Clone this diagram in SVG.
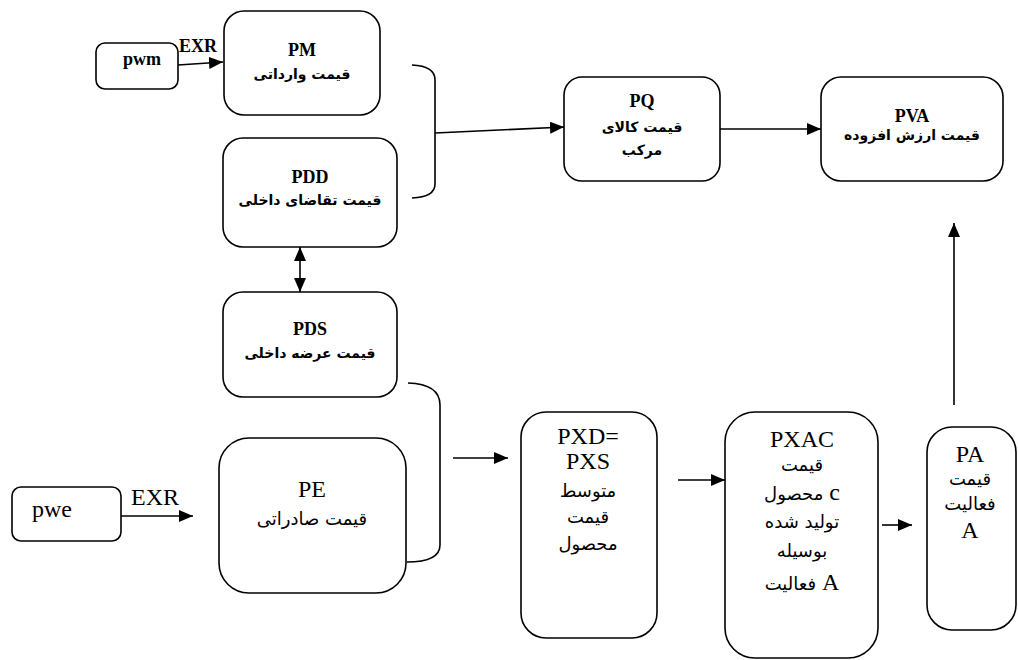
<svg xmlns="http://www.w3.org/2000/svg" width="1018" height="660" viewBox="0 0 1018 660">
<style>
.box{fill:#fff;stroke:#000;stroke-width:1.6}
.ln{fill:none;stroke:#000;stroke-width:1.6}
.b{font-family:"Liberation Serif","DejaVu Sans",serif;font-weight:bold;font-size:18px;text-anchor:middle;fill:#000}
.bp{font-family:"DejaVu Sans",sans-serif;font-weight:bold;font-size:14px;text-anchor:middle;fill:#000}
.r{font-family:"Liberation Serif","DejaVu Sans",serif;font-size:24px;text-anchor:middle;fill:#000}
.rp{font-family:"DejaVu Sans",sans-serif;font-size:18px;text-anchor:middle;fill:#000}
</style>
<defs>
<marker id="ah" markerUnits="userSpaceOnUse" markerWidth="15" markerHeight="12" refX="14" refY="6" orient="auto">
<path d="M0,0 L14,6 L0,12 z" fill="#000"/>
</marker>
<marker id="as" markerUnits="userSpaceOnUse" markerWidth="15" markerHeight="12" refX="0" refY="6" orient="auto">
<path d="M14,0 L0,6 L14,12 z" fill="#000"/>
</marker>
</defs>
<rect width="1018" height="660" fill="#fff"/>
<g id="connectors">
<line class="ln" x1="178" y1="65" x2="223" y2="62" marker-end="url(#ah)"/>
<text class="b" x="198" y="52">EXR</text>
<path class="ln" d="M412,65 Q435,66 435,80 L435,184 Q435,197 412,198"/>
<line class="ln" x1="435" y1="133" x2="564" y2="127" marker-end="url(#ah)"/>
<line class="ln" x1="720" y1="129" x2="821" y2="129" marker-end="url(#ah)"/>
<line class="ln" x1="300" y1="247" x2="300" y2="292" marker-start="url(#as)" marker-end="url(#ah)"/>
<path class="ln" d="M408,383 Q440,384 440,405 L440,545 Q440,562 407,562"/>
<line class="ln" x1="453" y1="458" x2="508" y2="458" marker-end="url(#ah)"/>
<line class="ln" x1="121" y1="516" x2="193" y2="516" marker-end="url(#ah)"/>
<text class="r" x="155" y="505">EXR</text>
<line class="ln" x1="678" y1="480" x2="725" y2="480" marker-end="url(#ah)"/>
<line class="ln" x1="882" y1="525" x2="912" y2="525" marker-end="url(#ah)"/>
<line class="ln" x1="954" y1="405" x2="954" y2="223" marker-end="url(#ah)"/>
</g>
<g id="pwm">
<rect class="box" x="96" y="43" width="82" height="46" rx="9"/>
<text class="b" x="142" y="65">pwm</text>
</g>
<g id="PM">
<rect class="box" x="224" y="11" width="156" height="104" rx="20"/>
<text class="b" x="302" y="56">PM</text>
<text class="bp" x="302" y="79">قیمت وارداتی</text>
</g>
<g id="PDD">
<rect class="box" x="223" y="138" width="174" height="109" rx="20"/>
<text class="b" x="310" y="183">PDD</text>
<text class="bp" x="310" y="205">قیمت تقاضای داخلی</text>
</g>
<g id="PDS">
<rect class="box" x="223" y="292" width="174" height="105" rx="20"/>
<text class="b" x="310" y="335">PDS</text>
<text class="bp" x="310" y="358">قیمت عرضه داخلی</text>
</g>
<g id="pwe">
<rect class="box" x="12" y="487" width="109" height="54" rx="9"/>
<text class="r" x="52" y="517">pwe</text>
</g>
<g id="PE">
<rect class="box" x="219" y="438" width="187" height="155" rx="30"/>
<text class="r" x="312" y="497">PE</text>
<text class="rp" x="312" y="525">قیمت صادراتی</text>
</g>
<g id="PQ">
<rect class="box" x="564" y="77" width="156" height="104" rx="18"/>
<text class="b" x="642" y="107">PQ</text>
<text class="bp" x="642" y="132">قیمت کالای</text>
<text class="bp" x="642" y="155">مرکب</text>
</g>
<g id="PVA">
<rect class="box" x="821" y="77" width="182" height="104" rx="20"/>
<text class="b" x="912" y="122">PVA</text>
<text class="bp" x="912" y="140">قیمت ارزش افزوده</text>
</g>
<g id="PXD">
<rect class="box" x="521" y="412" width="136" height="226" rx="25"/>
<text class="r" x="588" y="444" font-size="23">PXD=</text>
<text class="r" x="588" y="469" font-size="23">PXS</text>
<text class="rp" x="588" y="497">متوسط</text>
<text class="rp" x="588" y="523">قیمت</text>
<text class="rp" x="588" y="550">محصول</text>
</g>
<g id="PXAC">
<rect class="box" x="725" y="412" width="153" height="246" rx="30"/>
<text class="r" x="802" y="447">PXAC</text>
<text class="rp" x="802" y="471">قیمت</text>
<text class="r" x="802" y="500"><tspan font-family="DejaVu Sans" font-size="18">محصول</tspan> c</text>
<text class="rp" x="802" y="528">تولید شده</text>
<text class="rp" x="802" y="557">بوسیله</text>
<text class="r" x="802" y="590"><tspan font-family="DejaVu Sans" font-size="18">فعالیت</tspan> A</text>
</g>
<g id="PA">
<rect class="box" x="927" y="427" width="89" height="203" rx="25"/>
<text class="r" x="970" y="462">PA</text>
<text class="rp" x="970" y="485">قیمت</text>
<text class="rp" x="970" y="510">فعالیت</text>
<text class="r" x="970" y="538">A</text>
</g>
</svg>
